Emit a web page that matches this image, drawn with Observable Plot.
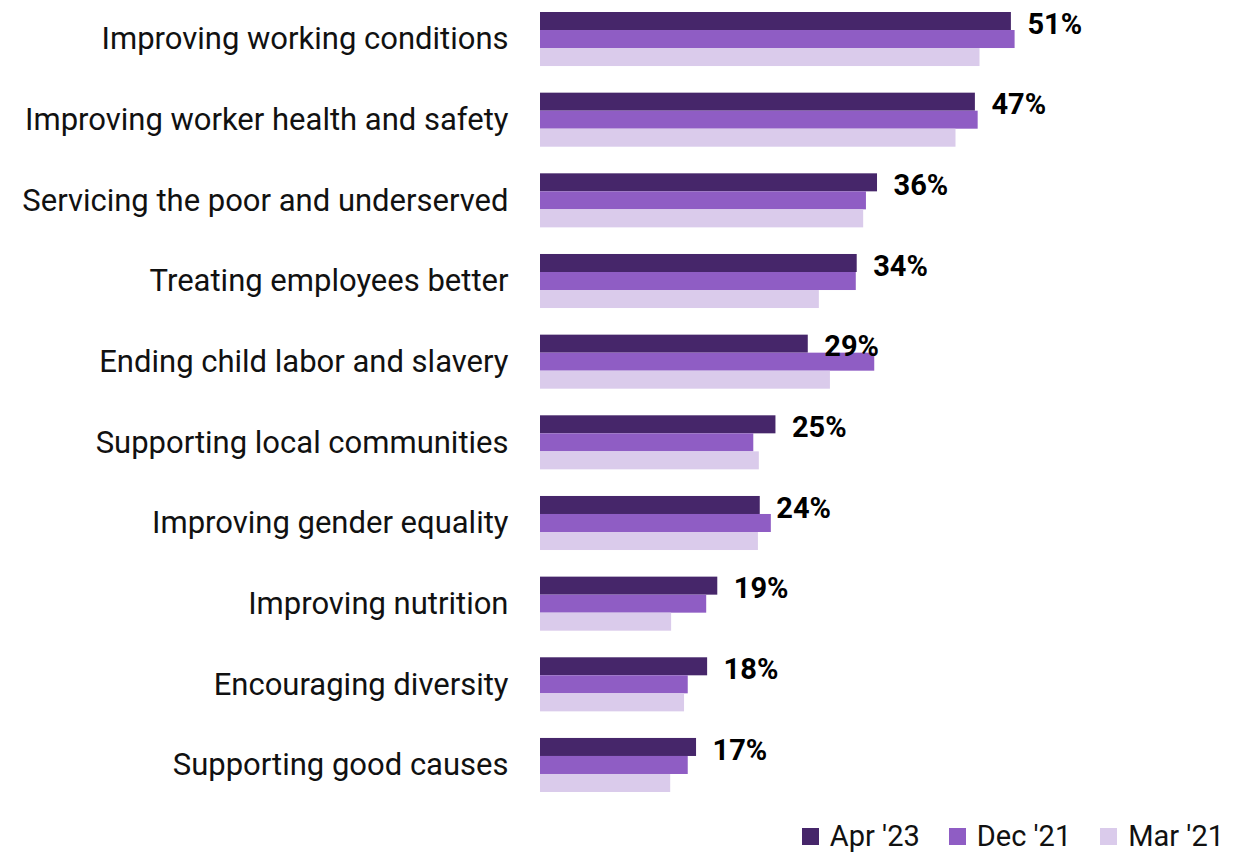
<!DOCTYPE html>
<html>
<head>
<meta charset="utf-8">
<script src="https://cdn.jsdelivr.net/npm/d3@7"></script>
<script src="https://cdn.jsdelivr.net/npm/@observablehq/plot@0.6"></script>
<style>
  body { margin: 0; background: #fff; font-family: Roboto, "Noto Sans", sans-serif; }
  #legend { display: flex; justify-content: flex-end; padding-right: 0px; margin-top: 14px; }
  #legend svg { margin-right: 0.38em !important; }
</style>
</head>
<body>
<div id="chart"></div>
<div id="legend"></div>
<script>
const categories = [
  "Improving working conditions",
  "Improving worker health and safety",
  "Servicing the poor and underserved",
  "Treating employees better",
  "Ending child labor and slavery",
  "Supporting local communities",
  "Improving gender equality",
  "Improving nutrition",
  "Encouraging diversity",
  "Supporting good causes"
];
const series = ["Apr '23", "Dec '21", "Mar '21"];
const colors = ["#46266a", "#8f5dc4", "#dacbeb"];
const apr23 = [51.0, 47.1, 36.5, 34.3, 29.0, 25.5, 23.8, 19.2, 18.1, 16.9];
const dec21 = [51.4, 47.4, 35.3, 34.2, 36.2, 23.1, 25.0, 18.0, 16.0, 16.0];
const mar21 = [47.6, 45.0, 35.0, 30.2, 31.4, 23.7, 23.6, 14.2, 15.6, 14.1];
const aprLabels = ["51%", "47%", "36%", "34%", "29%", "25%", "24%", "19%", "18%", "17%"];

const valuesBySeries = [apr23, dec21, mar21];
const rows = [];
categories.forEach((c, i) => {
  series.forEach((s, j) => rows.push({category: c, series: s, value: valuesBySeries[j][i]}));
});
const labels = categories.map((c, i) => ({category: c, series: series[0], value: apr23[i], label: aprLabels[i]}));

const font = "Roboto, 'Noto Sans', sans-serif";

const chart = Plot.plot({
  width: 1253,
  height: 805,
  marginLeft: 540,
  marginRight: 159,
  marginTop: 12,
  marginBottom: 13,
  style: {fontFamily: font, fontSize: "31px", color: "#111", background: "#fff"},
  x: {domain: [0, 60], axis: null},
  y: {domain: series, axis: null, padding: 0, round: false},
  fy: {domain: categories, paddingInner: 0.33, paddingOuter: 0, round: false, axis: "left", label: null, tickSize: 0, tickPadding: 32},
  color: {domain: series, range: colors},
  marks: [
    Plot.barX(rows, {x: "value", y: "series", fy: "category", fill: "series"}),
    Plot.text(labels, {x: "value", y: "series", fy: "category", text: "label", textAnchor: "start", dx: 16, dy: 3, fontWeight: "bold", fontSize: 29, fill: "#000"})
  ]
});
document.getElementById("chart").appendChild(chart);

const leg = Plot.legend({
  color: {domain: series, range: colors},
  legend: "swatches",
  swatchSize: 17,
  style: {fontFamily: font, fontSize: "29px", color: "#111"}
});
document.getElementById("legend").appendChild(leg);
</script>
</body>
</html>
